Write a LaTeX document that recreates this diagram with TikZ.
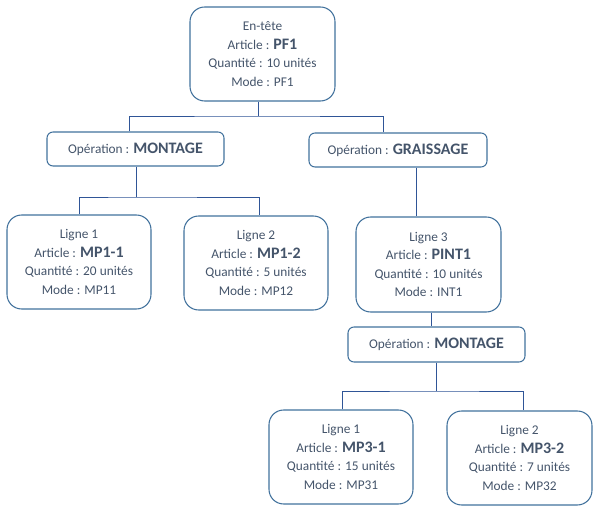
\documentclass[tikz,border=0pt]{standalone}
\usepackage{fontspec}
\setmainfont{Carlito}
\definecolor{txt}{HTML}{44546A}
\definecolor{bord}{HTML}{41719C}
\definecolor{lnk}{HTML}{2F5597}
\newcommand{\bigb}[1]{{\fontsize{12}{13.5}\selectfont\bfseries #1}}
\begin{document}
\begin{tikzpicture}[x=0.75pt,y=-0.75pt,
  card/.style={draw=bord, line width=0.8pt, rounded corners=11pt, align=center,
    text=txt, font=\fontsize{10}{13.8}\selectfont, inner sep=0pt},
  opbox/.style={draw=bord, line width=0.8pt, rounded corners=4.5pt, align=center,
    text=txt, font=\fontsize{10}{12}\selectfont, inner sep=0pt,
    minimum height=34*0.75pt},
  conn/.style={draw=lnk, line width=0.7pt}]
\useasboundingbox (0,0) rectangle (597,509);

% header
\node[card, minimum width=145*0.75pt, minimum height=94*0.75pt] (hdr) at (262.5,54)
  {En-tête\\Article : \bigb{PF1}\\Quantité : 10 unités\\Mode : PF1};

% operations level 1
\node[opbox, minimum width=177*0.75pt] (op1) at (135.5,149) {Opération : \bigb{MONTAGE}};
\node[opbox, minimum width=178*0.75pt] (op2) at (398,150) {Opération : \bigb{GRAISSAGE}};

% lines level 1
\node[card, minimum width=144*0.75pt, minimum height=94*0.75pt] (l1) at (79,262)
  {Ligne 1\\Article : \bigb{MP1-1}\\Quantité : 20 unités\\Mode : MP11};
\node[card, minimum width=144*0.75pt, minimum height=94*0.75pt] (l2) at (256,263)
  {Ligne 2\\Article : \bigb{MP1-2}\\Quantité : 5 unités\\Mode : MP12};
\node[card, minimum width=145*0.75pt, minimum height=95*0.75pt] (l3) at (428.5,264.5)
  {Ligne 3\\Article : \bigb{PINT1}\\Quantité : 10 unités\\Mode : INT1};

% operation level 2
\node[opbox, minimum width=177*0.75pt, minimum height=35*0.75pt] (op3) at (436.5,344.5) {Opération : \bigb{MONTAGE}};

% lines level 2
\node[card, minimum width=144*0.75pt, minimum height=94*0.75pt] (l4) at (341,457)
  {Ligne 1\\Article : \bigb{MP3-1}\\Quantité : 15 unités\\Mode : MP31};
\node[card, minimum width=145*0.75pt, minimum height=94*0.75pt] (l5) at (519.5,458)
  {Ligne 2\\Article : \bigb{MP3-2}\\Quantité : 7 unités\\Mode : MP32};

% bus coordinates
\coordinate (b1) at (258,116);
\coordinate (x1a) at (129,116);
\coordinate (x1b) at (383,116);
\coordinate (b2) at (136,197);
\coordinate (x2a) at (79,197);
\coordinate (x2b) at (259,197);
\coordinate (x3) at (416,200);
\coordinate (x4) at (431,320);
\coordinate (b5) at (436,391);
\coordinate (x5a) at (342,391);
\coordinate (x5b) at (523,391);

% connectors
\draw[conn] (hdr.south -| b1) -- (b1);
\draw[conn] (op1.north -| x1a) |- (b1) -| (op2.north -| x1b);
\draw[conn] (op1.south -| b2) -- (b2);
\draw[conn] (l1.north -| x2a) |- (b2) -| (l2.north -| x2b);
\draw[conn] (op2.south -| x3) -- (l3.north -| x3);
\draw[conn] (l3.south -| x4) -- (op3.north -| x4);
\draw[conn] (op3.south -| b5) -- (b5);
\draw[conn] (l4.north -| x5a) |- (b5) -| (l5.north -| x5b);
\end{tikzpicture}
\end{document}
